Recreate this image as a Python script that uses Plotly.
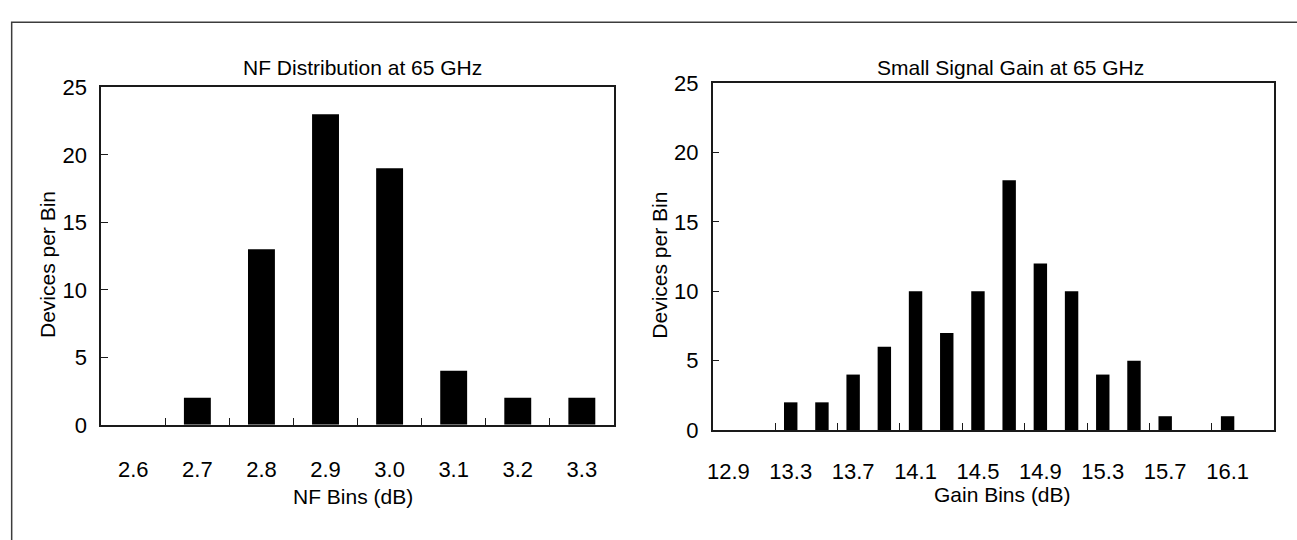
import plotly.graph_objects as go

# ---- data ----
nf_bins = ["2.6", "2.7", "2.8", "2.9", "3.0", "3.1", "3.2", "3.3"]
nf_counts = [0, 2, 13, 23, 19, 4, 2, 2]

gain_bins = ["12.9", "13.1", "13.3", "13.5", "13.7", "13.9", "14.1", "14.3", "14.5",
             "14.7", "14.9", "15.1", "15.3", "15.5", "15.7", "15.9", "16.1", "16.3"]
gain_counts = [0, 0, 2, 2, 4, 6, 10, 7, 10, 18, 12, 10, 4, 5, 1, 0, 1, 0]
gain_tick_labels = gain_bins[::2]

y_ticks = [0, 5, 10, 15, 20, 25]

W, H = 1297, 540
FONT = "Liberation Sans, Arial, sans-serif"
TICK_SIZE = 22
TITLE_SIZE = 21
LINE = "#1a1a1a"

def px_x(x):
    return x / W

def px_y(y):
    return 1 - y / H

nf_pos = list(range(len(nf_bins)))
gain_pos = list(range(len(gain_bins)))

fig = go.Figure()
fig.add_trace(go.Bar(x=nf_pos, y=nf_counts, marker=dict(color="black", line=dict(width=0)),
                     width=0.42, xaxis="x", yaxis="y", showlegend=False,
                     customdata=nf_bins, hovertemplate="%{customdata}: %{y}<extra></extra>"))
fig.add_trace(go.Bar(x=gain_pos, y=gain_counts, marker=dict(color="black", line=dict(width=0)),
                     width=0.43, xaxis="x2", yaxis="y2", showlegend=False,
                     customdata=gain_bins, hovertemplate="%{customdata}: %{y}<extra></extra>"))

common_x = dict(type="linear", showline=True, mirror=True, linecolor=LINE, linewidth=1.5,
                ticks="", showgrid=False, zeroline=False,
                tickfont=dict(family=FONT, size=TICK_SIZE, color="black"),
                fixedrange=True)
common_y = dict(range=[0, 25], tickvals=y_ticks, showline=True, mirror=True, linecolor=LINE,
                linewidth=1.5, ticks="inside", ticklen=7, tickcolor=LINE, tickwidth=1,
                showgrid=False, zeroline=False,
                tickfont=dict(family=FONT, size=TICK_SIZE, color="black"),
                ticklabelstandoff=8, fixedrange=True)

def minor_ticks(vals):
    return dict(tickmode="array", tickvals=vals, ticks="inside", ticklen=7,
                tickcolor=LINE, tickwidth=1, showgrid=False)

n1 = len(nf_bins)
n2 = len(gain_bins)

fig.update_layout(
    width=W, height=H,
    margin=dict(l=0, r=0, t=0, b=0),
    paper_bgcolor="white", plot_bgcolor="white",
    font=dict(family=FONT, color="black"),
    xaxis=dict(**common_x, domain=[px_x(95.7), px_x(610.7)], anchor="y",
               range=[-0.5, n1 - 0.5], tickmode="array", tickvals=nf_pos, ticktext=nf_bins,
               ticklabelstandoff=24,
               minor=minor_ticks([i + 0.5 for i in range(n1 - 1)])),
    yaxis=dict(**common_y, domain=[px_y(432.9), px_y(79)], anchor="x"),
    xaxis2=dict(**common_x, domain=[px_x(710), px_x(1274.3)], anchor="y2",
                range=[-0.5, n2 - 0.5], tickmode="array", tickvals=gain_pos[::2],
                ticktext=gain_tick_labels, ticklabelstandoff=21,
                minor=minor_ticks([i + 0.5 for i in range(1, n2 - 2, 2)])),
    yaxis2=dict(**common_y, domain=[px_y(438.4), px_y(74.5)], anchor="x2"),
    shapes=[dict(type="rect", xref="paper", yref="paper",
                 x0=px_x(5.7), x1=1.2, y0=-0.2, y1=px_y(10.7),
                 line=dict(color="#3c3c3c", width=1.5), fillcolor="rgba(0,0,0,0)")],
    annotations=[
        dict(text="NF Distribution at 65 GHz", x=px_x(357.7), y=px_y(57.9), xref="paper", yref="paper",
             showarrow=False, xanchor="center", yanchor="middle", font=dict(size=TITLE_SIZE)),
        dict(text="Small Signal Gain at 65 GHz", x=px_x(1008.7), y=px_y(57.9), xref="paper", yref="paper",
             showarrow=False, xanchor="center", yanchor="middle", font=dict(size=TITLE_SIZE)),
        dict(text="NF Bins (dB)", x=px_x(348.3), y=px_y(508), xref="paper", yref="paper",
             showarrow=False, xanchor="center", yanchor="middle", font=dict(size=TITLE_SIZE)),
        dict(text="Gain Bins (dB)", x=px_x(1000.7), y=px_y(506), xref="paper", yref="paper",
             showarrow=False, xanchor="center", yanchor="middle", font=dict(size=TITLE_SIZE)),
        dict(text="Devices per Bin", x=px_x(41.5), y=px_y(265), xref="paper", yref="paper",
             showarrow=False, xanchor="center", yanchor="middle", textangle=-90, font=dict(size=TITLE_SIZE)),
        dict(text="Devices per Bin", x=px_x(657), y=px_y(265), xref="paper", yref="paper",
             showarrow=False, xanchor="center", yanchor="middle", textangle=-90, font=dict(size=TITLE_SIZE)),
    ],
)

fig.write_html("out.html")
